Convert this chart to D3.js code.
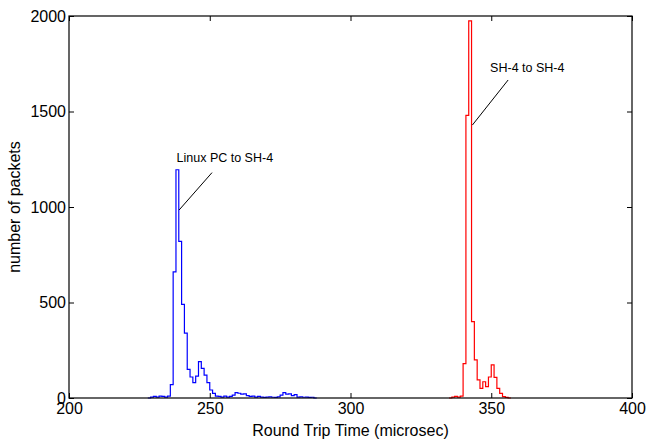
<!DOCTYPE html>
<html>
<head>
<meta charset="utf-8">
<script src="https://cdn.jsdelivr.net/npm/d3@7"></script>
<style>
  html, body { margin: 0; padding: 0; background: #fff; }
  svg { display: block; font-family: "Liberation Sans", Arial, Helvetica, sans-serif; }
</style>
</head>
<body>
<svg id="chart" width="648" height="444"></svg>
<script>
// ---- data ----
const xTicks = [200, 250, 300, 350, 400];
const yTicks = [0, 500, 1000, 1500, 2000];

// Linux PC to SH-4 : 1-microsecond bins starting at blueStart
const blueStart = 228;
const blueCounts = [0, 5, 8, 5, 10, 8, 5, 10, 70, 660,
  1195, 820, 490, 340, 150, 110, 80, 115, 190, 155,
  120, 80, 42, 24, 10, 8, 5, 10, 5, 8,
  15, 28, 25, 20, 22, 12, 8, 10, 5, 8,
  5, 3, 5, 6, 4, 3, 6, 15, 28, 20,
  22, 12, 18, 5, 6, 4, 5, 3, 4, 0];

// SH-4 to SH-4
const redStart = 335;
const redCounts = [0, 5, 8, 5, 10, 180, 1480, 1975, 400, 200,
  95, 50, 85, 60, 110, 173, 108, 50, 24, 7, 3, 0];

// annotation: text anchor (data units) and pointer line from (xv,yv) to (xe,ye)
const labels = [
  { text: "Linux PC to SH-4", tx: 238.2, ty: 1235, xe: 250.8, ye: 1180, xv: 239.1, yv: 984 },
  { text: "SH-4 to SH-4", tx: 349.6, ty: 1705, xe: 356.0, ye: 1665, xv: 343.3, yv: 1429 }
];

// ---- layout ----
const W = 648, H = 444;
const m = { left: 69, right: 16, top: 16, bottom: 46 };
const svg = d3.select("#chart");
const x = d3.scaleLinear().domain([200, 400]).range([m.left, W - m.right]);
const y = d3.scaleLinear().domain([0, 2000]).range([H - m.bottom, m.top]);

function steps(start, counts) {
  const pts = counts.map((c, i) => [start + i, c]);
  pts.push([start + counts.length, counts[counts.length - 1]]);
  return pts;
}
const line = d3.line().x(d => x(d[0])).y(d => y(d[1])).curve(d3.curveStepAfter);

svg.append("path").datum(steps(blueStart, blueCounts))
  .attr("d", line).attr("fill", "none").attr("stroke", "#0000ff").attr("stroke-width", 1.2);
svg.append("path").datum(steps(redStart, redCounts))
  .attr("d", line).attr("fill", "none").attr("stroke", "#ff0000").attr("stroke-width", 1.2);

// axes (ticks inward)
const fs = "16px";
const gx = svg.append("g").attr("transform", `translate(0,${H - m.bottom})`)
  .call(d3.axisBottom(x).tickValues(xTicks).tickSizeInner(-5).tickSizeOuter(0).tickPadding(5).tickFormat(d3.format("d")));
const gxt = svg.append("g").attr("transform", `translate(0,${m.top})`)
  .call(d3.axisTop(x).tickValues(xTicks).tickSizeInner(-5).tickSizeOuter(0).tickFormat(""));
const gy = svg.append("g").attr("transform", `translate(${m.left},0)`)
  .call(d3.axisLeft(y).tickValues(yTicks).tickSizeInner(-5).tickSizeOuter(0).tickPadding(3).tickFormat(d3.format("d")));
const gyr = svg.append("g").attr("transform", `translate(${W - m.right},0)`)
  .call(d3.axisRight(y).tickValues(yTicks).tickSizeInner(-5).tickSizeOuter(0).tickFormat(""));
[gx, gxt, gy, gyr].forEach(g => {
  g.select(".domain").remove();
  g.selectAll("line").attr("stroke", "#000").attr("stroke-width", 1);
  g.selectAll("text").attr("fill", "#000").style("font-size", fs)
    .style("font-family", '"Liberation Sans", Arial, sans-serif');
});

svg.append("rect").attr("x", m.left).attr("y", m.top)
  .attr("width", W - m.left - m.right).attr("height", H - m.top - m.bottom)
  .attr("fill", "none").attr("stroke", "#000").attr("stroke-width", 1.2);

// titles
svg.append("text").attr("x", (m.left + W - m.right) / 2).attr("y", 436)
  .attr("text-anchor", "middle").style("font-size", fs).text("Round Trip Time (microsec)");
svg.append("text").attr("transform", `translate(20,${(m.top + H - m.bottom) / 2}) rotate(-90)`)
  .attr("text-anchor", "middle").style("font-size", fs).text("number of packets");

// annotations
labels.forEach(l => {
  svg.append("line").attr("x1", x(l.xv)).attr("y1", y(l.yv))
    .attr("x2", x(l.xe)).attr("y2", y(l.ye))
    .attr("stroke", "#000").attr("stroke-width", 1);
  svg.append("text").attr("x", x(l.tx)).attr("y", y(l.ty))
    .style("font-size", "12.5px").text(l.text);
});
</script>
</body>
</html>
